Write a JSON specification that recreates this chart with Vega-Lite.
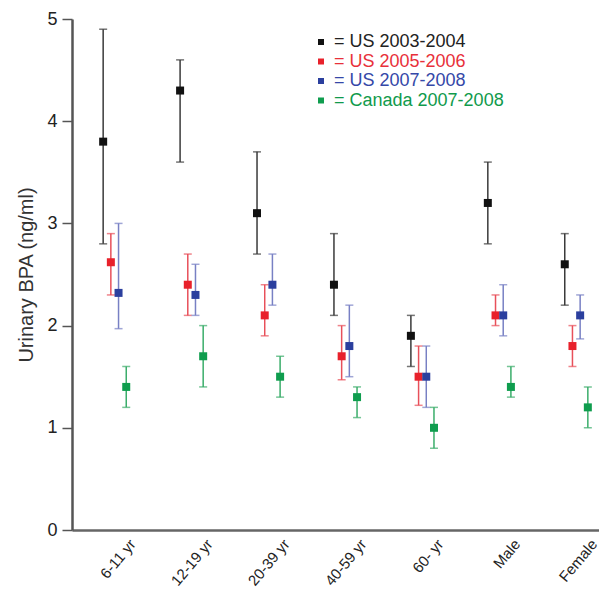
{
  "$schema": "https://vega.github.io/schema/vega-lite/v6.json",
  "autosize": {"type": "none"},
  "padding": {"left": 72, "top": 19, "right": 0, "bottom": 64},
  "width": 527,
  "height": 511,
  "background": "white",
  "config": {
    "font": "Liberation Sans",
    "view": {"stroke": null}
  },
  "data": {
    "values": [
      {"group": "6-11 yr", "series": "US 2003-2004", "mean": 3.8, "lo": 2.8, "hi": 4.9},
      {"group": "6-11 yr", "series": "US 2005-2006", "mean": 2.62, "lo": 2.3, "hi": 2.9},
      {"group": "6-11 yr", "series": "US 2007-2008", "mean": 2.32, "lo": 1.97, "hi": 3.0},
      {"group": "6-11 yr", "series": "Canada 2007-2008", "mean": 1.4, "lo": 1.2, "hi": 1.6},
      {"group": "12-19 yr", "series": "US 2003-2004", "mean": 4.3, "lo": 3.6, "hi": 4.6},
      {"group": "12-19 yr", "series": "US 2005-2006", "mean": 2.4, "lo": 2.1, "hi": 2.7},
      {"group": "12-19 yr", "series": "US 2007-2008", "mean": 2.3, "lo": 2.1, "hi": 2.6},
      {"group": "12-19 yr", "series": "Canada 2007-2008", "mean": 1.7, "lo": 1.4, "hi": 2.0},
      {"group": "20-39 yr", "series": "US 2003-2004", "mean": 3.1, "lo": 2.7, "hi": 3.7},
      {"group": "20-39 yr", "series": "US 2005-2006", "mean": 2.1, "lo": 1.9, "hi": 2.4},
      {"group": "20-39 yr", "series": "US 2007-2008", "mean": 2.4, "lo": 2.2, "hi": 2.7},
      {"group": "20-39 yr", "series": "Canada 2007-2008", "mean": 1.5, "lo": 1.3, "hi": 1.7},
      {"group": "40-59 yr", "series": "US 2003-2004", "mean": 2.4, "lo": 2.1, "hi": 2.9},
      {"group": "40-59 yr", "series": "US 2005-2006", "mean": 1.7, "lo": 1.47, "hi": 2.0},
      {"group": "40-59 yr", "series": "US 2007-2008", "mean": 1.8, "lo": 1.5, "hi": 2.2},
      {"group": "40-59 yr", "series": "Canada 2007-2008", "mean": 1.3, "lo": 1.1, "hi": 1.4},
      {"group": "60- yr", "series": "US 2003-2004", "mean": 1.9, "lo": 1.6, "hi": 2.1},
      {"group": "60- yr", "series": "US 2005-2006", "mean": 1.5, "lo": 1.22, "hi": 1.8},
      {"group": "60- yr", "series": "US 2007-2008", "mean": 1.5, "lo": 1.2, "hi": 1.8},
      {"group": "60- yr", "series": "Canada 2007-2008", "mean": 1.0, "lo": 0.8, "hi": 1.2},
      {"group": "Male", "series": "US 2003-2004", "mean": 3.2, "lo": 2.8, "hi": 3.6},
      {"group": "Male", "series": "US 2005-2006", "mean": 2.1, "lo": 2.0, "hi": 2.3},
      {"group": "Male", "series": "US 2007-2008", "mean": 2.1, "lo": 1.9, "hi": 2.4},
      {"group": "Male", "series": "Canada 2007-2008", "mean": 1.4, "lo": 1.3, "hi": 1.6},
      {"group": "Female", "series": "US 2003-2004", "mean": 2.6, "lo": 2.2, "hi": 2.9},
      {"group": "Female", "series": "US 2005-2006", "mean": 1.8, "lo": 1.6, "hi": 2.0},
      {"group": "Female", "series": "US 2007-2008", "mean": 2.1, "lo": 1.87, "hi": 2.3},
      {"group": "Female", "series": "Canada 2007-2008", "mean": 1.2, "lo": 1.0, "hi": 1.4}
    ]
  },
  "encoding": {
    "x": {
      "field": "group",
      "type": "nominal",
      "sort": ["6-11 yr", "12-19 yr", "20-39 yr", "40-59 yr", "60- yr", "Male", "Female"],
      "scale": {"range": [0, 547], "paddingInner": 0.6, "paddingOuter": 0.355},
      "axis": {
        "title": null,
        "labelAngle": -50,
        "labelAlign": "right",
        "labelBaseline": "middle",
        "labelFontSize": 15,
        "labelColor": "#222",
        "labelOffset": 18,
        "labelPadding": 11,
        "ticks": false,
        "domainColor": "#666",
        "domainWidth": 2.5,
        "grid": false
      }
    },
    "xOffset": {
      "field": "series",
      "type": "nominal",
      "sort": ["US 2003-2004", "US 2005-2006", "US 2007-2008", "Canada 2007-2008"],
      "scale": {"paddingInner": 0, "paddingOuter": 0}
    }
  },
  "layer": [
    {
      "mark": {"type": "rule", "strokeWidth": 1.5},
      "encoding": {
        "y": {"field": "lo", "type": "quantitative"},
        "y2": {"field": "hi"},
        "color": {
          "field": "series",
          "type": "nominal",
          "scale": {"domain": ["US 2003-2004", "US 2005-2006", "US 2007-2008", "Canada 2007-2008"], "range": ["#3a3a3a", "#e8505a", "#7880c4", "#3aad6a"]},
          "legend": null
        }
      }
    },
    {
      "mark": {"type": "tick", "thickness": 1.5, "size": 8},
      "encoding": {
        "y": {"field": "lo", "type": "quantitative"},
        "color": {"field": "series", "type": "nominal", "scale": {"domain": ["US 2003-2004", "US 2005-2006", "US 2007-2008", "Canada 2007-2008"], "range": ["#3a3a3a", "#e8505a", "#7880c4", "#3aad6a"]}, "legend": null}
      }
    },
    {
      "mark": {"type": "tick", "thickness": 1.5, "size": 8},
      "encoding": {
        "y": {"field": "hi", "type": "quantitative"},
        "color": {"field": "series", "type": "nominal", "scale": {"domain": ["US 2003-2004", "US 2005-2006", "US 2007-2008", "Canada 2007-2008"], "range": ["#3a3a3a", "#e8505a", "#7880c4", "#3aad6a"]}, "legend": null}
      }
    },
    {
      "mark": {"type": "point", "shape": "square", "filled": true, "size": 64, "opacity": 1},
      "encoding": {
        "y": {
          "field": "mean",
          "type": "quantitative",
          "scale": {"domain": [0, 5], "nice": false, "zero": true},
          "axis": {
            "title": "Urinary BPA (ng/ml)",
            "titleFontSize": 20,
            "titleFontWeight": "normal",
            "titleColor": "#333",
            "titlePadding": 10,
            "values": [0, 1, 2, 3, 4, 5],
            "format": "d",
            "labelFontSize": 18,
            "labelColor": "#222",
            "labelPadding": 5,
            "tickSize": 10,
            "tickWidth": 1.5,
            "tickColor": "#555",
            "domainColor": "#555",
            "domainWidth": 2.5,
            "grid": false
          }
        },
        "color": {
          "field": "series",
          "type": "nominal",
          "scale": {"domain": ["US 2003-2004", "US 2005-2006", "US 2007-2008", "Canada 2007-2008"], "range": ["#111111", "#e8212b", "#2b3f9e", "#0f9d4e"]},
          "legend": {
            "title": null,
            "orient": "none",
            "legendX": 240,
            "legendY": 14,
            "padding": 0,
            "symbolType": "square",
            "symbolSize": 36,
            "symbolStrokeWidth": 0,
            "labelFontSize": 18,
            "labelOffset": 4,
            "rowPadding": 1.5,
            "labelLimit": 300,
            "labelExpr": "'= ' + datum.label",
            "labelColor": {"expr": "datum.value === 'US 2003-2004' ? '#222222' : datum.value === 'US 2005-2006' ? '#e8303a' : datum.value === 'US 2007-2008' ? '#3548a8' : '#109a4c'"}
          }
        }
      }
    }
  ],
  "resolve": {"scale": {"color": "independent"}}
}
